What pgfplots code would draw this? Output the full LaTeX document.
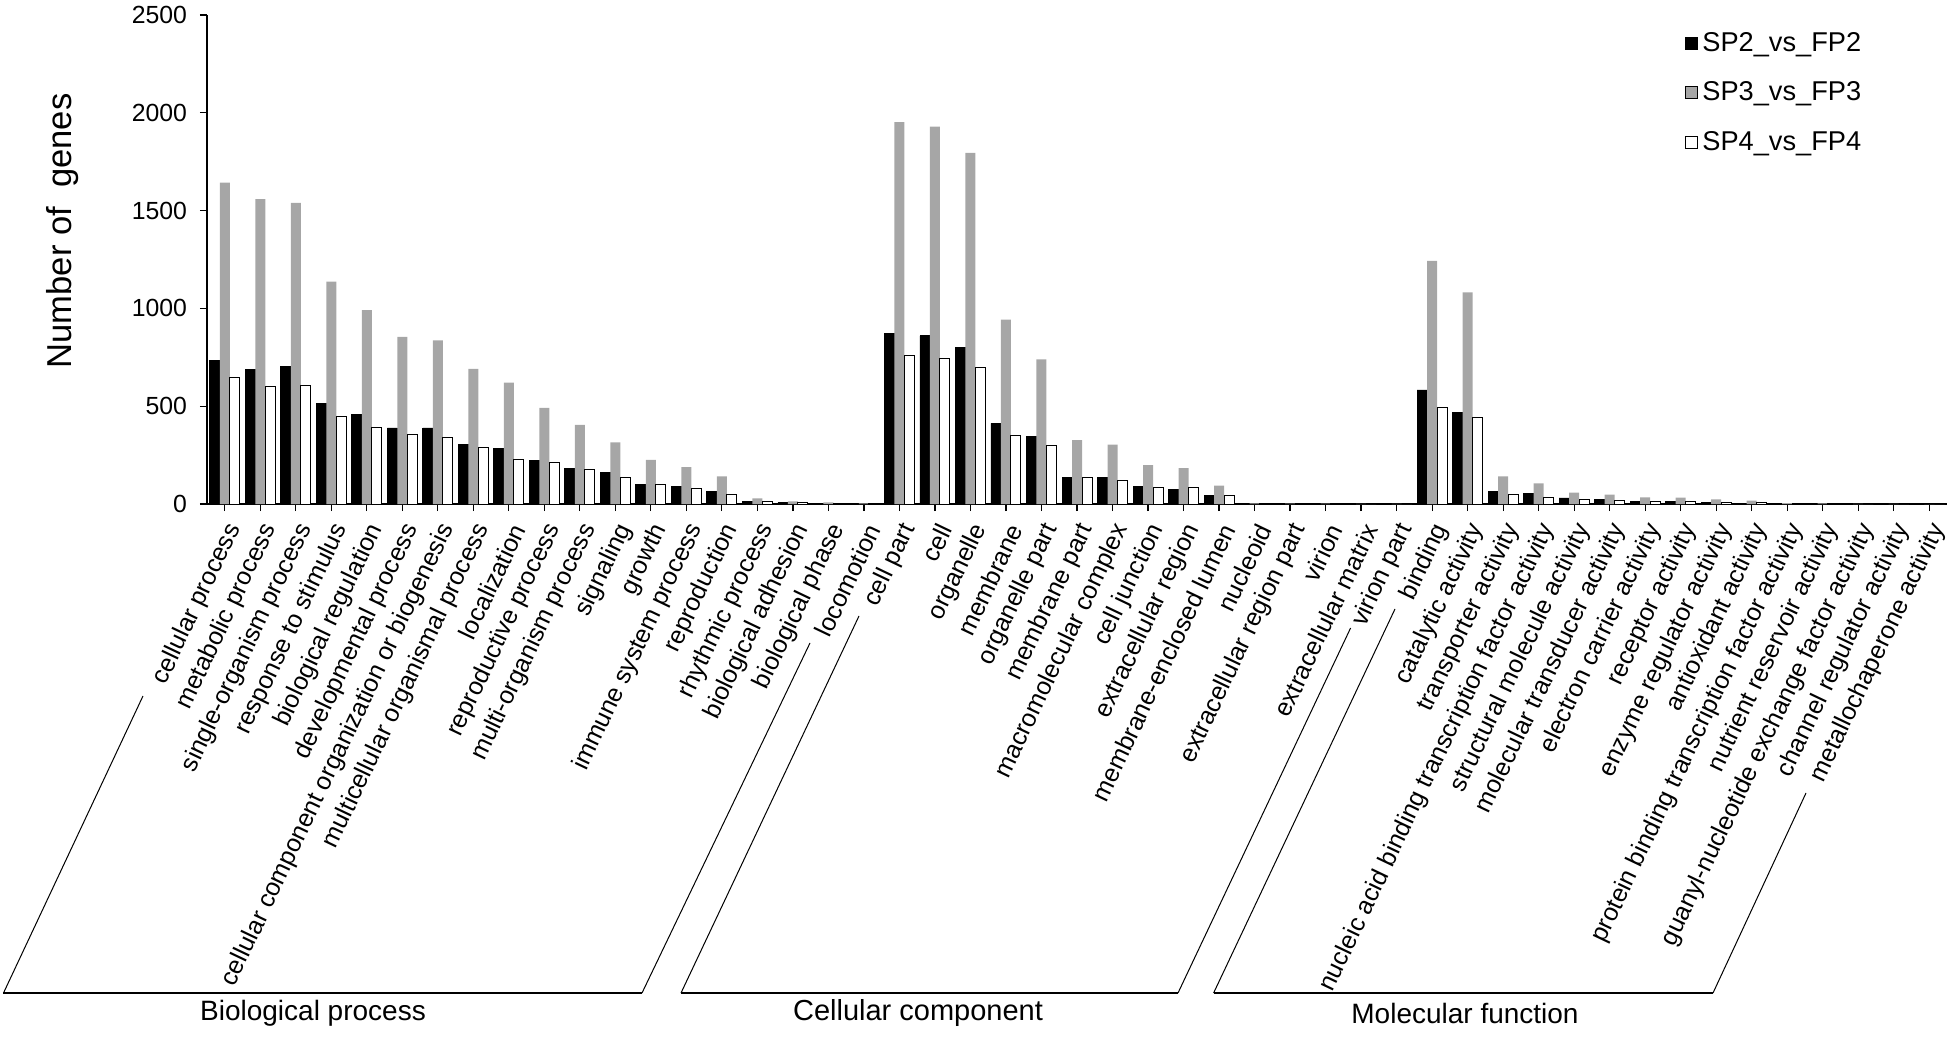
\documentclass[border=0pt]{standalone}
\usepackage{fontspec}
\setmainfont{Liberation Sans}
\usepackage{pgfplots}
\pgfplotsset{compat=1.18}
\definecolor{bargray}{RGB}{166,166,166}
\begin{document}
\begin{tikzpicture}
\begin{axis}[
  scale only axis, width=870pt, height=244.5pt,
  xmin=-0.5, xmax=48.5, ymin=0, ymax=2500,
  axis x line*=bottom, axis y line*=left,
  axis line style={line width=0.7pt},
  ytick={0,500,...,2500}, scaled y ticks=false,
  xtick={0,...,48},
  xticklabels={cellular process,metabolic process,single-organism process,response to stimulus,biological regulation,developmental process,cellular component organization or biogenesis,multicellular organismal process,localization,reproductive process,multi-organism process,signaling,growth,immune system process,reproduction,rhythmic process,biological adhesion,biological phase,locomotion,cell part,cell,organelle,membrane,organelle part,membrane part,macromolecular complex,cell junction,extracellular region,membrane-enclosed lumen,nucleoid,extracellular region part,virion,extracellular matrix,virion part,binding,catalytic activity,transporter activity,nucleic acid binding transcription factor activity,structural molecule activity,molecular transducer activity,electron carrier activity,receptor activity,enzyme regulator activity,antioxidant activity,protein binding transcription factor activity,nutrient reservoir activity,guanyl-nucleotide exchange factor activity,channel regulator activity,metallochaperone activity},
  tick align=outside, major tick length=3.5pt,
  tick style={line width=0.6pt, black},
  ybar, bar width=5pt,
  /pgf/number format/assume math mode=true,
  /pgf/number format/1000 sep={},
  yticklabel style={font=\fontsize{12.4}{14}\selectfont, xshift=-3pt},
  xticklabel style={font=\fontsize{12.5}{15}\selectfont, inner sep=0pt, xshift=5pt, yshift=-7.2pt, rotate=64.5, anchor=east},
  legend style={at={(rel axis cs:0.846,0.982)}, anchor=north west, draw=none, fill=none, font=\fontsize{13.6}{16}\selectfont, row sep=9.75pt},
  legend cell align=left,
  legend image code/.code={\draw[#1, line width=0.5pt] (0pt,-3pt) rectangle (6pt,3pt);},
]
\addplot[fill=black, draw=black, bar shift=-5pt] coordinates {
(0,736) (1,690) (2,701) (3,515) (4,457) (5,389) (6,389) (7,304) (8,286) (9,221)
(10,182) (11,160) (12,100) (13,90) (14,65) (15,15) (16,7) (17,2) (18,1)
(19,870) (20,860) (21,800) (22,412) (23,347) (24,138) (25,138) (26,92) (27,73) (28,44)
(29,1) (30,1) (31,1) (32,0) (33,0)
(34,583) (35,466) (36,63) (37,53) (38,31) (39,22) (40,12) (41,14) (42,9) (43,3)
(44,1) (45,0) (46,0) (47,0) (48,0)};
\addplot[fill=bargray, draw=none, bar shift=0pt] coordinates {
(0,1643) (1,1559) (2,1539) (3,1137) (4,991) (5,854) (6,837) (7,691) (8,621) (9,491)
(10,405) (11,315) (12,226) (13,189) (14,141) (15,29) (16,14) (17,8) (18,3)
(19,1952) (20,1929) (21,1795) (22,942) (23,739) (24,327) (25,303) (26,199) (27,184) (28,94)
(29,3) (30,2) (31,2) (32,1) (33,1)
(34,1243) (35,1082) (36,141) (37,105) (38,58) (39,48) (40,34) (41,32) (42,24) (43,17)
(44,5) (45,3) (46,1) (47,1) (48,0)};
\addplot[fill=white, draw=black, line width=0.5pt, bar shift=5pt] coordinates {
(0,648) (1,600) (2,607) (3,447) (4,389) (5,354) (6,340) (7,287) (8,228) (9,213)
(10,177) (11,133) (12,99) (13,77) (14,49) (15,14) (16,7) (17,2) (18,1)
(19,757) (20,743) (21,697) (22,352) (23,299) (24,133) (25,119) (26,83) (27,83) (28,46)
(29,1) (30,1) (31,1) (32,0) (33,0)
(34,495) (35,442) (36,49) (37,34) (38,24) (39,20) (40,14) (41,15) (42,9) (43,10)
(44,1) (45,1) (46,0) (47,0) (48,0)};
\legend{SP2\_vs\_FP2,SP3\_vs\_FP3,SP4\_vs\_FP4}
\end{axis}
\node[rotate=90, font=\fontsize{17.3}{20}\selectfont] at (-72pt,136.5pt) {Number of~ genes};
% group brackets
\draw[line width=0.5pt] (-32pt,-96pt) -- (-101.75pt,-244.5pt);
\draw[line width=1pt] (-101.75pt,-244.5pt) -- (217.5pt,-244.5pt);
\draw[line width=0.5pt] (217.5pt,-244.5pt) -- (301.5pt,-69.5pt);
\draw[line width=0.5pt] (326pt,-56pt) -- (237pt,-244.5pt);
\draw[line width=1pt] (237pt,-244.5pt) -- (485.5pt,-244.5pt);
\draw[line width=0.5pt] (485.5pt,-244.5pt) -- (571.8pt,-62pt);
\draw[line width=0.5pt] (594pt,-52.5pt) -- (503.3pt,-244.5pt);
\draw[line width=1pt] (503.3pt,-244.5pt) -- (753pt,-244.5pt);
\draw[line width=0.5pt] (753pt,-244.5pt) -- (799.5pt,-144.5pt);
\node[font=\fontsize{14}{16}\selectfont] at (53pt,-254.5pt) {Biological process};
\node[font=\fontsize{14.5}{16}\selectfont] at (355.5pt,-254.5pt) {Cellular component};
\node[font=\fontsize{14}{16}\selectfont] at (629pt,-254.5pt) {Molecular function};
\pgfresetboundingbox
\path (-103.5pt,-267pt) rectangle (874pt,252pt);
\end{tikzpicture}
\end{document}
